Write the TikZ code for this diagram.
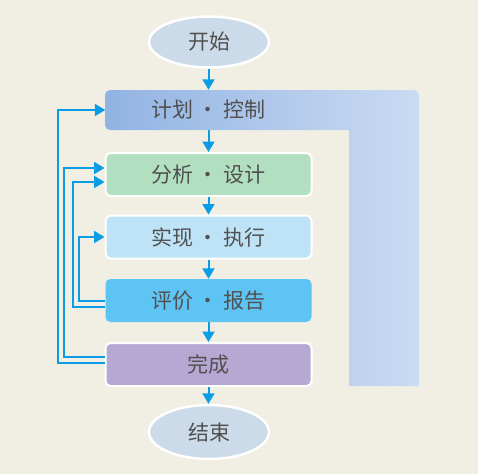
\documentclass[tikz,border=0pt]{standalone}
\usepackage{fontspec}
\newfontfamily\cjk{Noto Sans CJK SC}
\usetikzlibrary{shapes.geometric,arrows.meta}
\definecolor{bg}{HTML}{F1EFE3}
\definecolor{ellfill}{HTML}{CCDBE9}
\definecolor{planL}{HTML}{92B3E3}
\definecolor{planR}{HTML}{CADBF2}
\definecolor{analc}{HTML}{B1DFC0}
\definecolor{implc}{HTML}{BFE3F6}
\definecolor{evalc}{HTML}{5EC4F4}
\definecolor{donec}{HTML}{B6A7D3}
\definecolor{arrc}{HTML}{0A9DE6}
\definecolor{txt}{HTML}{505050}
\tikzset{
  term/.style={ellipse, fill=ellfill, draw=white, line width=2.5pt, minimum width=120pt, minimum height=51pt, inner sep=0pt, font=\cjk\fontsize{21}{25}\selectfont, text=txt},
  stepbox/.style={rectangle, rounded corners=5pt, minimum width=206pt, minimum height=43pt, inner sep=0pt, font=\cjk\fontsize{21}{25}\selectfont, text=txt},
  wb/.style={draw=white, line width=2pt},
  flow/.style={draw=arrc, line width=2pt, -{Triangle[length=10.5pt,width=12pt]}},
  fb/.style={draw=arrc, line width=2pt, -{Triangle[length=10.5pt,width=12pt]}},
}
\begin{document}
\begin{tikzpicture}[x=1pt,y=-1pt]
\useasboundingbox (0,0) rectangle (478,474);
\fill[bg] (0,0) rectangle (478,474);
% L-shaped plan area
\shade[left color=planL, right color=planR]
  (110,90) -- (414,90) to[out=0,in=90] (419,95) -- (419,386) -- (349,386) -- (349,130) -- (110,130) to[out=180,in=-90] (105,125) -- (105,95) to[out=90,in=180] cycle;
\node[term] (start) at (209,42) {开始};
\node[stepbox, minimum height=40pt] (plan) at (208.5,110) {计划 · 控制};
\node[stepbox, fill=analc, wb] (anal) at (208.5,174.5) {分析 · 设计};
\node[stepbox, fill=implc, wb] (impl) at (208.5,237) {实现 · 执行};
\node[stepbox, fill=evalc] (eval) at (208.5,300.5) {评价 · 报告};
\node[stepbox, fill=donec, wb] (done) at (208.5,364.5) {完成};
\node[term, minimum height=54pt] (end) at (209,432) {结束};
% main flow
\draw[flow] (start.south -| plan.north) -- (plan.north);
\draw[flow] (plan.south) -- (anal.north);
\draw[flow] (anal.south) -- (impl.north);
\draw[flow] (impl.south) -- (eval.north);
\draw[flow] (eval.south) -- (done.north);
\draw[flow] (done.south) -- (end.north -| done.south);
% feedback
\draw[fb] ([yshift=1.5pt]done.west) -- ++(-47,0) |- (plan.west);
\draw[fb] ([yshift=7.5pt]done.west) -- ++(-41,0) |- ([yshift=6.5pt]anal.west);
\draw[fb] ([yshift=-6.5pt]eval.west) -- ++(-32,0) |- ([yshift=-7.5pt]anal.west);
\draw[fb] (eval.west) -- ++(-26,0) |- (impl.west);
\end{tikzpicture}
\end{document}
